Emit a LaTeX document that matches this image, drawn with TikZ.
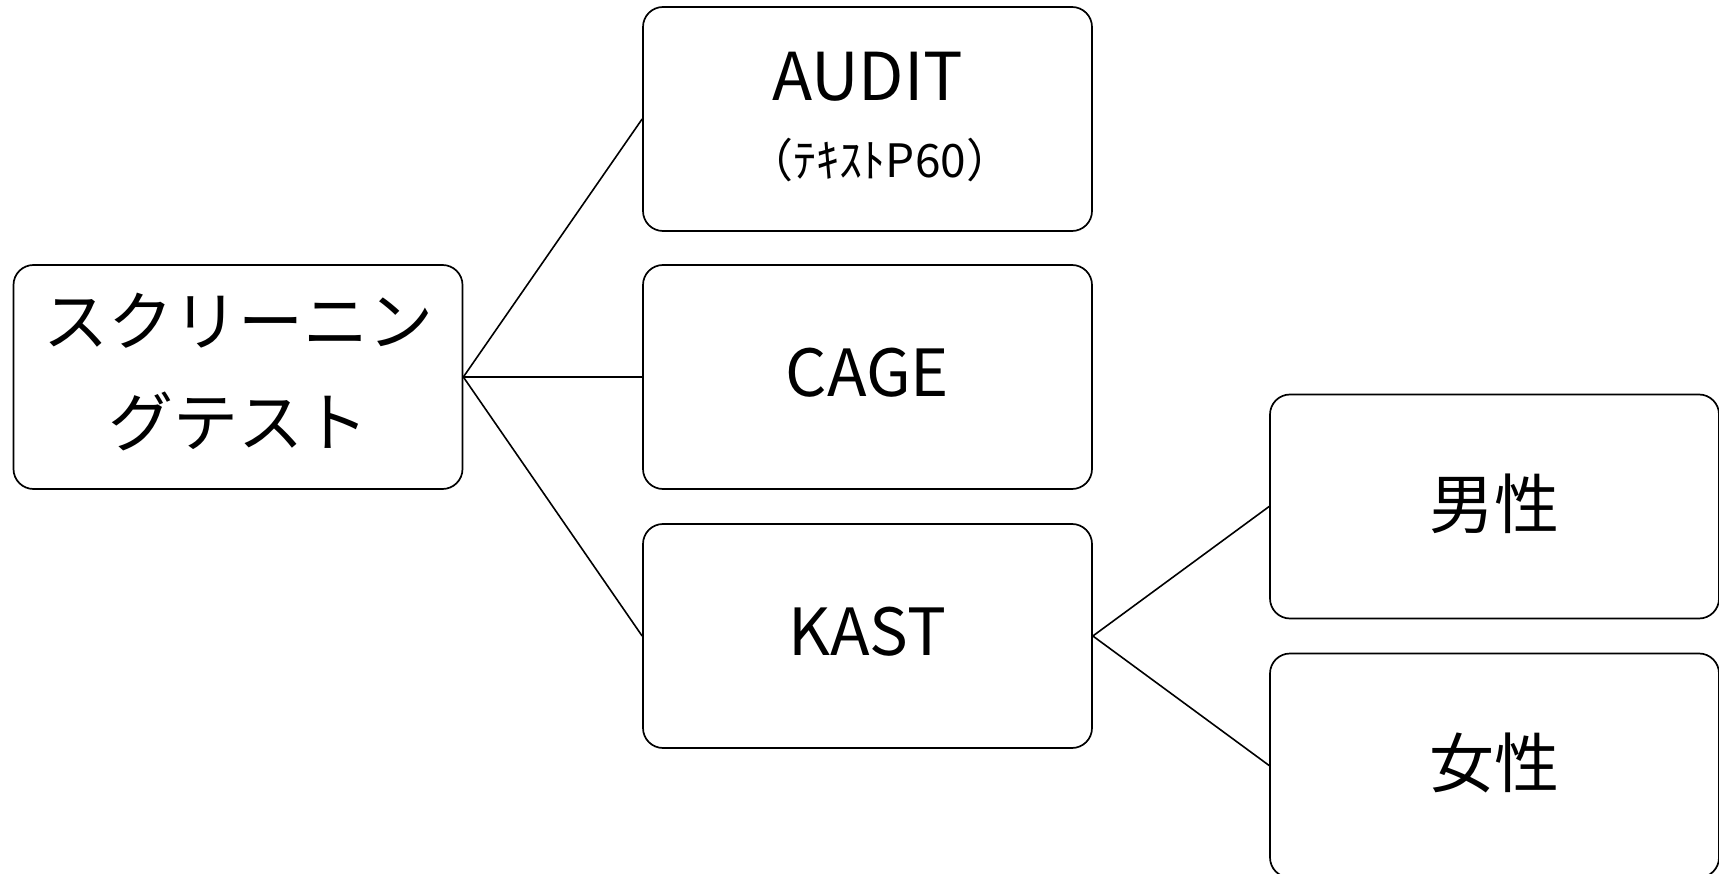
\documentclass[tikz,border=0pt]{standalone}
\usepackage{fontspec}
\setmainfont{Noto Sans CJK JP}
\begin{document}
\begin{tikzpicture}[x=1pt,y=-1pt,
  box/.style={draw, rounded corners=20pt, line width=1.7pt, minimum width=449pt, minimum height=224pt, inner sep=0pt, align=center, font=\fontsize{65}{101}\selectfont},
  link/.style={line width=1.6pt}]
\useasboundingbox (0,0) rectangle (1719,874);
\node[box] (scr) at (238,377) {};
\node[align=center, font=\fontsize{65}{101}\selectfont] (scrtext) at (238,372) {スクリーニン\\グテスト};
\node[box] (audit) at (867.5,119) {};
\node (auditA) at (867.5,77) {\fontsize{66}{70}\selectfont AUDIT};
\node (auditB) at (880,160) {\fontsize{46}{50}\selectfont （ﾃｷｽﾄP60）};
\node[box] (cage) at (867.5,377) {\raisebox{10pt}{CAGE}};
\node[box] (kast) at (867.5,636) {\raisebox{10pt}{KAST}};
\node[box] (male) at (1494.5,506.5) {\raisebox{10pt}{男性}};
\node[box] (female) at (1494.5,765.5) {\raisebox{10pt}{女性}};
\draw[link] (scr.east) -- (audit.west);
\draw[link] (scr.east) -- (cage.west);
\draw[link] (scr.east) -- (kast.west);
\draw[link] (kast.east) -- (male.west);
\draw[link] (kast.east) -- (female.west);
\end{tikzpicture}
\end{document}
